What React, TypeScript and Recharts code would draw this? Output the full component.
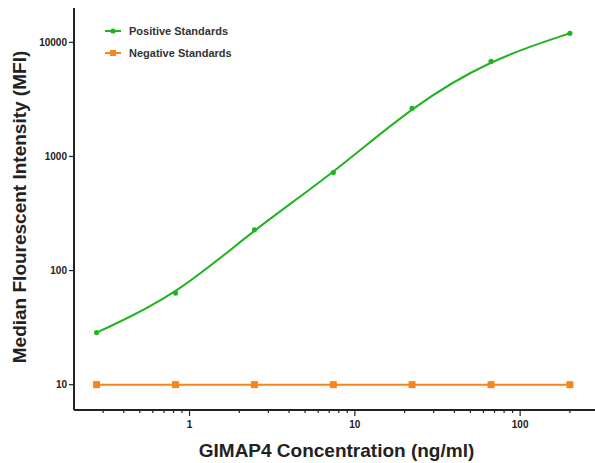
import { Line, LineChart, XAxis, YAxis } from "recharts";

// 3-fold dilution series, ng/ml
const concentrations = [0.274, 0.823, 2.47, 7.41, 22.2, 66.7, 200];
const positiveMfi = [28.6, 63.5, 228, 722, 2640, 6800, 12000];
const negativeMfi = [10, 10, 10, 10, 10, 10, 10];

const seriesNames = ["Positive Standards", "Negative Standards"];

const xMajorTicks = [1, 10, 100];
const xMinorTicks = [0.3, 0.4, 0.5, 0.6, 0.7, 0.8, 0.9, 2, 3, 4, 5, 6, 7, 8, 9, 20, 30, 40, 50, 60, 70, 80, 90, 200, 300];
const yTicks = [10, 100, 1000, 10000];

const GREEN = "#22b322";
const ORANGE = "#f5861c";
const INK = "#222";
const FONT = "'Liberation Sans', Arial, sans-serif";

const data = concentrations.map((c, i) => ({ conc: c, pos: positiveMfi[i], neg: negativeMfi[i] }));
const xTicks = [...xMinorTicks, ...xMajorTicks].sort((a, b) => a - b);

// B-spline whose control points are nudged outwards so it stays close to the
// standards, the way the fitted curve in the original does. K=1/6 would interpolate.
const K = 0.12;
function fitCurve(context: any) {
  let pts: number[][] = [];
  return {
    areaStart() {},
    areaEnd() {},
    lineStart() {
      pts = [];
    },
    point(x: number, y: number) {
      pts.push([+x, +y]);
    },
    lineEnd() {
      const n = pts.length;
      if (n === 0) return;
      const c = pts.map((p, i) => {
        if (i === 0 || i === n - 1) return p;
        const a = pts[i - 1];
        const b = pts[i + 1];
        return [p[0] - K * (a[0] - 2 * p[0] + b[0]), p[1] - K * (a[1] - 2 * p[1] + b[1])];
      });
      const cp = [c[0], c[0], ...c, c[n - 1], c[n - 1]];
      context.moveTo(c[0][0], c[0][1]);
      for (let i = 1; i + 2 < cp.length; i++) {
        const p0 = cp[i - 1];
        const p1 = cp[i];
        const p2 = cp[i + 1];
        const p3 = cp[i + 2];
        context.bezierCurveTo(
          (2 * p1[0] + p2[0]) / 3,
          (2 * p1[1] + p2[1]) / 3,
          (p1[0] + 2 * p2[0]) / 3,
          (p1[1] + 2 * p2[1]) / 3,
          (p1[0] + 4 * p2[0] + p3[0]) / 6,
          (p1[1] + 4 * p2[1] + p3[1]) / 6
        );
        void p0;
      }
    },
  };
}

function XTick({ x, y, payload }: any) {
  const major = xMajorTicks.includes(payload.value);
  return (
    <g>
      <line x1={x} x2={x} y1={y} y2={y + (major ? 6 : 3)} stroke={INK} strokeWidth={1.2} />
      {major && (
        <text x={x} y={y + 18} textAnchor="middle" fontSize={10} fontWeight="bold" fill={INK}>
          {payload.value}
        </text>
      )}
    </g>
  );
}

// drawn as an overlay so it doesn't eat into the plot area
function LegendBox() {
  const colors = [GREEN, ORANGE];
  return (
    <div
      style={{
        position: "absolute",
        left: 104,
        top: 20,
        fontFamily: FONT,
        fontSize: 11,
        fontWeight: "bold",
        color: "#333",
      }}
    >
      {seriesNames.map((name, i) => (
        <div key={name} style={{ display: "flex", alignItems: "center", height: 22 }}>
          <svg width={25} height={10}>
            <line x1={1} x2={17} y1={5} y2={5} stroke={colors[i]} strokeWidth={2} />
            {i === 0 ? (
              <circle cx={9} cy={5} r={2.6} fill={colors[i]} />
            ) : (
              <rect x={6} y={2} width={6} height={6} fill={colors[i]} />
            )}
          </svg>
          <span>{name}</span>
        </div>
      ))}
    </div>
  );
}

export default function App() {
  return (
    <div style={{ position: "absolute", left: 0, top: 0, width: 595, height: 463, overflow: "hidden", background: "#fff" }}>
      <LineChart
        width={600}
        height={463}
        data={data}
        margin={{ top: 8, right: 1, bottom: 0, left: 0 }}
        style={{ fontFamily: FONT }}
      >
        <XAxis
          dataKey="conc"
          type="number"
          scale="log"
          domain={[0.2, 300]}
          ticks={xTicks}
          interval={0}
          height={53}
          tickLine={false}
          tickSize={0}
          tickMargin={0}
          tick={<XTick />}
          axisLine={{ stroke: INK, strokeWidth: 2 }}
          allowDataOverflow
          label={{
            value: "GIMAP4 Concentration (ng/ml)",
            position: "insideBottom",
            offset: 6,
            fontSize: 19,
            fontWeight: "bold",
            fill: INK,
          }}
        />
        <YAxis
          type="number"
          scale="log"
          domain={[6, 20000]}
          ticks={yTicks}
          interval={0}
          width={74}
          allowDataOverflow
          tickSize={5}
          tickMargin={2}
          tickLine={{ stroke: INK, strokeWidth: 1.2 }}
          axisLine={{ stroke: INK, strokeWidth: 2 }}
          tick={{ fontSize: 10, fontWeight: "bold", fill: INK }}
          label={{
            value: "Median Flourescent Intensity (MFI)",
            angle: -90,
            position: "insideLeft",
            offset: 19,
            dy: -2,
            fontSize: 19,
            fontWeight: "bold",
            fill: INK,
            style: { textAnchor: "middle" },
          }}
        />
        <Line
          name={seriesNames[0]}
          dataKey="pos"
          type={fitCurve as any}
          stroke={GREEN}
          strokeWidth={2}
          dot={{ r: 2.6, fill: GREEN, stroke: GREEN, strokeWidth: 0 }}
          isAnimationActive={false}
        />
        <Line
          name={seriesNames[1]}
          dataKey="neg"
          type="linear"
          stroke={ORANGE}
          strokeWidth={2}
          dot={(props: any) => (
            <rect key={props.index} x={props.cx - 3.5} y={props.cy - 3.5} width={7} height={7} fill={ORANGE} />
          )}
          isAnimationActive={false}
        />
      </LineChart>
      <LegendBox />
    </div>
  );
}
